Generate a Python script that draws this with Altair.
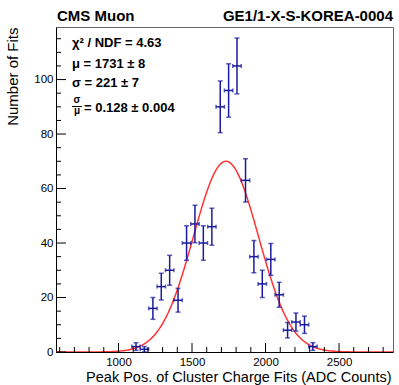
import altair as alt
import numpy as np
import pandas as pd

# ---- data ----
bin_centers = [1119, 1176, 1234, 1291, 1348, 1405, 1463, 1520, 1577, 1635, 1692,
               1749, 1806, 1864, 1921, 1978, 2036, 2093, 2150, 2207, 2265, 2322]
counts = [2, 1, 16, 24, 30, 19, 40, 47, 40, 46, 90,
          96, 105, 63, 35, 25, 34, 21, 8, 11, 10, 2]
bin_half_width = 28.65

fit_mu = 1731
fit_sigma = 221
fit_amp = 70

x_domain = [575, 2867]
y_domain = [0, 119.3]

x_major = [1000, 1500, 2000, 2500]
x_minor = [600, 700, 800, 900, 1100, 1200, 1300, 1400, 1600, 1700, 1800, 1900,
           2100, 2200, 2300, 2400, 2600, 2700, 2800]
y_major = [0, 20, 40, 60, 80, 100]
y_minor = [5, 10, 15, 25, 30, 35, 45, 50, 55, 65, 70, 75, 85, 90, 95, 105, 110, 115]

title_left = "CMS Muon"
title_right = "GE1/1-X-S-KOREA-0004"
stats_lines = ["χ² / NDF = 4.63", "μ = 1731 ± 8", "σ = 221 ± 7"]
ratio_num = "σ"
ratio_den = "μ"
ratio_text = "= 0.128 ± 0.004"
x_title = "Peak Pos. of Cluster Charge Fits (ADC Counts)"
y_title = "Number of Fits"

W, H = 337, 325
FONT = "Liberation Sans"
BLUE = "#1a1aa0"
RED = "#ff3434"

df = pd.DataFrame({"center": bin_centers, "n": counts})
df["err"] = np.sqrt(df["n"])
df["lo"] = (df["n"] - df["err"]).clip(lower=0)
df["hi"] = df["n"] + df["err"]
df["xlo"] = df["center"] - bin_half_width
df["xhi"] = df["center"] + bin_half_width

xs = alt.Scale(domain=x_domain, nice=False, zero=False)
ys = alt.Scale(domain=y_domain, nice=False, zero=False)

x_axis = alt.Axis(values=x_major, format="d", tickSize=0, grid=False, domainColor="black",
                  labelFont=FONT, labelFontSize=11.5, labelColor="black", labelPadding=4,
                  title=x_title, titleFont=FONT, titleFontSize=14.5, titleFontWeight="normal",
                  titleColor="black", titleX=W - 2, titleY=29, titleAlign="right",
                  titleBaseline="alphabetic")
y_axis = alt.Axis(values=y_major, format="d", tickSize=0, grid=False, domainColor="black",
                  labelFont=FONT, labelFontSize=11.5, labelColor="black", labelPadding=3,
                  title=y_title, titleFont=FONT, titleFontSize=15, titleFontWeight="normal",
                  titleColor="black", titleX=-44, titleY=0, titleAngle=270,
                  titleAlign="right", titleBaseline="middle")


def X(field):
    return alt.X(field, scale=xs, axis=x_axis)


def Y(field):
    return alt.Y(field, scale=ys, axis=y_axis)


base = alt.Chart(df)

vbars = base.mark_rule(color=BLUE, strokeWidth=1.5).encode(
    x=X("center:Q"), y=Y("lo:Q"), y2="hi:Q")
hbars = base.mark_rule(color=BLUE, strokeWidth=1.5).encode(
    x=X("xlo:Q"), x2="xhi:Q", y=Y("n:Q"))
cap_hi = base.mark_tick(color=BLUE, orient="horizontal", size=5, thickness=1.5).encode(
    x=X("center:Q"), y=Y("hi:Q"))
cap_lo = base.mark_tick(color=BLUE, orient="horizontal", size=5, thickness=1.5).encode(
    x=X("center:Q"), y=Y("lo:Q"))
cap_l = base.mark_tick(color=BLUE, orient="vertical", size=4, thickness=1.5).encode(
    x=X("xlo:Q"), y=Y("n:Q"))
cap_r = base.mark_tick(color=BLUE, orient="vertical", size=4, thickness=1.5).encode(
    x=X("xhi:Q"), y=Y("n:Q"))

fit = alt.Chart(alt.sequence(x_domain[0], x_domain[1] + 1, 4, as_="x")).transform_calculate(
    y=f"{fit_amp} * exp(-0.5 * pow((datum.x - {fit_mu}) / {fit_sigma}, 2))"
).mark_line(color=RED, strokeWidth=1.5, clip=True).encode(
    x=X("x:Q"), y=Y("y:Q"))

# inward ticks
xmaj = alt.Chart(pd.DataFrame({"v": x_major})).mark_rule(color="black", strokeWidth=1).encode(
    x=X("v:Q"), y=alt.value(H), y2=alt.value(H - 9))
xmin = alt.Chart(pd.DataFrame({"v": x_minor})).mark_rule(color="black", strokeWidth=1).encode(
    x=X("v:Q"), y=alt.value(H), y2=alt.value(H - 5))
ymaj = alt.Chart(pd.DataFrame({"v": y_major})).mark_rule(color="black", strokeWidth=1).encode(
    y=Y("v:Q"), x=alt.value(0), x2=alt.value(10))
ymin = alt.Chart(pd.DataFrame({"v": y_minor})).mark_rule(color="black", strokeWidth=1).encode(
    y=Y("v:Q"), x=alt.value(0), x2=alt.value(5))


def txt(s, x, y, size, align="left", weight="bold"):
    return alt.Chart(pd.DataFrame({"t": [s]})).mark_text(
        font=FONT, fontSize=size, fontWeight=weight, align=align, baseline="alphabetic",
        color="black").encode(x=alt.value(x), y=alt.value(y), text="t:N")


t_left = txt(title_left, 1, -6, 15)
t_right = txt(title_right, W, -6, 15, align="right")
s1 = txt(stats_lines[0], 16, 20, 13)
s2 = txt(stats_lines[1], 16, 41, 13)
s3 = txt(stats_lines[2], 16, 60, 13)
r_num = txt(ratio_num, 21, 76, 10, align="center")
r_den = txt(ratio_den, 21, 87, 10, align="center")
r_line = alt.Chart(pd.DataFrame({"a": [0]})).mark_rule(color="black", strokeWidth=1).encode(
    x=alt.value(16), x2=alt.value(26), y=alt.value(79.5))
r_txt = txt(ratio_text, 28, 85, 13)

chart = alt.layer(
    fit, vbars, hbars, cap_hi, cap_lo, cap_l, cap_r,
    xmaj, xmin, ymaj, ymin,
    t_left, t_right, s1, s2, s3, r_num, r_den, r_line, r_txt,
).properties(
    width=W, height=H,
    autosize=alt.AutoSizeParams(type="none"),
    padding={"left": 56, "top": 27, "right": 6, "bottom": 33},
    background="white",
).configure_view(stroke="#666666", strokeWidth=1)

chart.save("out.html", embed_options={"renderer": "svg", "actions": False})
